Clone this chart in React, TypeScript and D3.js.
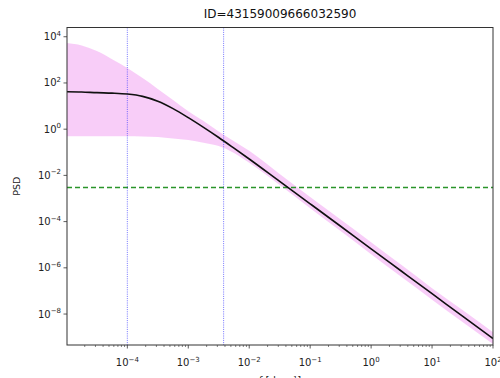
import { useEffect, useRef } from 'react'
import * as d3 from 'd3'

// frequency grid (1/day) and values
const freq = [1e-5, 1.78e-5, 3.16e-5, 5.62e-5, 1e-4, 1.78e-4, 3.16e-4, 5.62e-4, 1e-3, 1.78e-3, 3.16e-3, 5.62e-3, 1e-2, 3.16e-2, 0.1, 0.316, 1, 3.16, 10, 31.6, 100]
const psd = [41.7, 40.7, 38.0, 36.3, 33.1, 26.3, 16.2, 7.76, 3.16, 1.20, 0.437, 0.151, 0.0513, 5.5e-3, 5.9e-4, 6.3e-5, 6.6e-6, 7.1e-7, 7.6e-8, 8.1e-9, 8.7e-10]
const psdUpper = [5370, 4170, 2400, 1070, 447, 162, 55, 18.2, 6.0, 2.24, 0.79, 0.30, 0.117, 0.0115, 1.15e-3, 1.23e-4, 1.29e-5, 1.32e-6, 1.32e-7, 1.48e-8, 1.62e-9]
const psdLower = [0.50, 0.50, 0.50, 0.50, 0.49, 0.48, 0.46, 0.39, 0.34, 0.26, 0.186, 0.093, 0.035, 3.8e-3, 3.8e-4, 3.9e-5, 3.9e-6, 4.0e-7, 4.2e-8, 4.5e-9, 5.0e-10]

const vLines = [1.0e-4, 3.8e-3]
const noiseLevel = 3.0e-3

const xTickExp = [-4, -3, -2, -1, 0, 1, 2]
const yTickExp = [4, 2, 0, -2, -4, -6, -8]

const title = 'ID=43159009666032590'
const xLabel = 'f [day⁻¹]'
const yLabel = 'PSD'

function App() {
  const svgRef = useRef<SVGSVGElement>(null)

  useEffect(() => {
    const width = 500
    const height = 378
    const margin = { top: 27.5, right: 7, bottom: 33, left: 67 }
    const innerW = width - margin.left - margin.right
    const innerH = height - margin.top - margin.bottom

    const svg = d3.select(svgRef.current)
    svg.selectAll('*').remove()

    const x = d3.scaleLog().domain([10 ** -4.99, 100]).range([0, innerW])
    const y = d3.scaleLog().domain([10 ** -9.34, 10 ** 4.4]).range([innerH, 0])

    const g = svg.append('g').attr('transform', `translate(${margin.left},${margin.top})`)

    g.append('clipPath').attr('id', 'plot-clip')
      .append('rect').attr('width', innerW).attr('height', innerH)

    const plot = g.append('g').attr('clip-path', 'url(#plot-clip)')
    const rows = freq.map((f, i) => ({ f, p: psd[i], hi: psdUpper[i], lo: psdLower[i] }))

    const area = d3.area<any>()
      .x(d => x(d.f))
      .y0(d => y(d.lo))
      .y1(d => y(d.hi))
      .curve(d3.curveMonotoneX)

    plot.append('path')
      .datum(rows)
      .attr('d', area)
      .attr('fill', 'violet')
      .attr('fill-opacity', 0.4)

    vLines.forEach(v => {
      plot.append('line')
        .attr('x1', x(v)).attr('x2', x(v))
        .attr('y1', 0).attr('y2', innerH)
        .attr('stroke', '#3030ff')
        .attr('stroke-opacity', 0.75)
        .attr('stroke-width', 0.9)
        .attr('stroke-dasharray', '1,1.2')
    })

    plot.append('line')
      .attr('x1', 0).attr('x2', innerW)
      .attr('y1', y(noiseLevel)).attr('y2', y(noiseLevel))
      .attr('stroke', '#2a952a')
      .attr('stroke-width', 1.6)
      .attr('stroke-dasharray', '5,3')

    const line = d3.line<any>()
      .x(d => x(d.f))
      .y(d => y(d.p))
      .curve(d3.curveMonotoneX)

    plot.append('path')
      .datum(rows)
      .attr('d', line)
      .attr('fill', 'none')
      .attr('stroke', '#111')
      .attr('stroke-width', 1.6)

    // frame
    g.append('rect')
      .attr('width', innerW).attr('height', innerH)
      .attr('fill', 'none').attr('stroke', '#333').attr('stroke-width', 1)

    const font = 'DejaVu Sans, sans-serif'
    const tickColor = '#333'

    // x ticks
    const minor: number[] = []
    for (let e = -5; e < 2; e++) for (let m = 2; m <= 9; m++) minor.push(m * 10 ** e)
    minor.filter(v => v >= x.domain()[0] && v <= 100).forEach(v => {
      g.append('line')
        .attr('x1', x(v)).attr('x2', x(v))
        .attr('y1', innerH).attr('y2', innerH + 2)
        .attr('stroke', tickColor).attr('stroke-width', 0.6)
    })
    xTickExp.forEach(e => {
      const px = x(10 ** e)
      g.append('line')
        .attr('x1', px).attr('x2', px)
        .attr('y1', innerH).attr('y2', innerH + 3.5)
        .attr('stroke', tickColor).attr('stroke-width', 0.8)
      const t = g.append('text')
        .attr('x', px).attr('y', innerH + 21)
        .attr('text-anchor', 'middle')
        .attr('font-family', font).attr('font-size', 10).attr('fill', '#222')
      t.append('tspan').text('10')
      t.append('tspan').attr('dy', -4.5).attr('font-size', 7).text(e < 0 ? `−${-e}` : `${e}`)
    })

    // y ticks
    yTickExp.forEach(e => {
      const py = y(10 ** e)
      g.append('line')
        .attr('x1', -3.5).attr('x2', 0)
        .attr('y1', py).attr('y2', py)
        .attr('stroke', tickColor).attr('stroke-width', 0.8)
      const t = g.append('text')
        .attr('x', -6).attr('y', py + 3.5)
        .attr('text-anchor', 'end')
        .attr('font-family', font).attr('font-size', 10).attr('fill', '#222')
      t.append('tspan').text('10')
      t.append('tspan').attr('dy', -4.5).attr('font-size', 7).text(e < 0 ? `−${-e}` : `${e}`)
    })

    svg.append('text')
      .attr('x', margin.left + innerW / 2).attr('y', 18)
      .attr('text-anchor', 'middle')
      .attr('font-family', font).attr('font-size', 12).attr('fill', '#111')
      .text(title)

    svg.append('text')
      .attr('transform', `translate(20,${margin.top + innerH / 2}) rotate(-90)`)
      .attr('text-anchor', 'middle')
      .attr('font-family', font).attr('font-size', 9.5).attr('fill', '#222')
      .text(yLabel)

    svg.append('text')
      .attr('x', margin.left + innerW / 2).attr('y', 384)
      .attr('text-anchor', 'middle')
      .attr('font-family', font).attr('font-size', 10).attr('fill', '#222')
      .text(xLabel)
  }, [])

  return (
    <div style={{ position: 'fixed', left: 0, top: 0, width: 500, height: 378, background: '#fff' }}>
      <svg ref={svgRef} width={500} height={378} style={{ display: 'block' }} />
    </div>
  )
}

export default App
